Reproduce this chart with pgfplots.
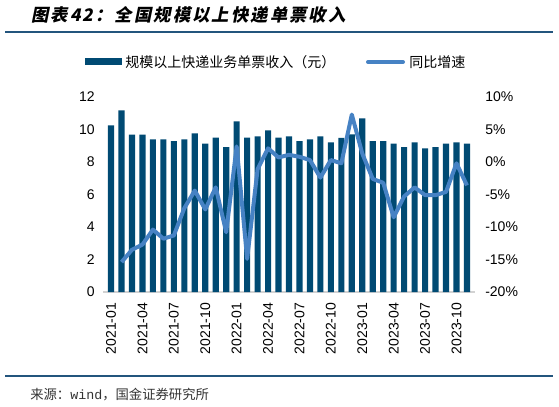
\documentclass[border=0pt]{standalone}
\usepackage{pgfplots}
\pgfplotsset{compat=1.18}
\usepackage{pgfplotstable}
\usepackage{fontspec}
\setmainfont{Liberation Sans}
\newfontfamily\cjk{Noto Sans CJK SC}
\newfontfamily\titlefont[FakeSlant=0.2,LetterSpace=12]{Noto Sans CJK SC}
\newfontfamily\monofont{Liberation Mono}
\definecolor{barc}{RGB}{0,74,115}
\definecolor{linec}{RGB}{70,130,196}
\definecolor{rulec}{RGB}{35,85,125}
\definecolor{axisc}{RGB}{210,210,210}

\pgfplotstableread{
x y
0 10.26
1 11.18
2 9.68
3 9.68
4 9.39
5 9.39
6 9.29
7 9.39
8 9.76
9 9.13
10 9.50
11 8.92
12 10.50
13 9.50
14 9.58
15 9.95
16 9.50
17 9.58
18 9.29
19 9.39
20 9.58
21 9.21
22 9.48
23 9.70
24 10.69
25 9.29
26 9.29
27 9.13
28 8.92
29 9.21
30 8.84
31 8.92
32 9.13
33 9.21
34 9.13
}\bars

\pgfplotstableread{
x y
1 -15.4
2 -13.5
3 -12.7
4 -10.4
5 -11.8
6 -11.3
7 -7.1
8 -4.4
9 -7.3
10 -3.9
11 -10.8
12 2.4
13 -14.9
14 -1.1
15 2.1
16 0.7
17 1.1
18 0.8
19 0.3
20 -2.4
21 0.3
22 -0.2
23 7.3
24 1.3
25 -2.6
26 -3.2
27 -8.5
28 -5.3
29 -3.9
30 -5.1
31 -5.1
32 -4.6
33 -0.2
34 -3.6
}\growth

\begin{document}
\begin{tikzpicture}[x=0.75pt,y=0.75pt]
\useasboundingbox (0,0) rectangle (559,406);
% title
\node[anchor=west,inner sep=0pt] at (31,391) {\titlefont\bfseries\fontsize{13pt}{15pt}\selectfont 图表42：全国规模以上快递单票收入};
\fill[rulec] (5,373.3) rectangle (553,375.3);
% legend
\fill[barc] (85,340.5) rectangle (122,347.5);
\node[anchor=west,inner sep=0pt] at (125,344) {\cjk\fontsize{10.5pt}{12pt}\selectfont 规模以上快递业务单票收入（元）};
\draw[linec,line width=3pt,line cap=round] (368,344) -- (403,344);
\node[anchor=west,inner sep=0pt] at (409,344) {\cjk\fontsize{10.5pt}{12pt}\selectfont 同比增速};

\begin{axis}[
  at={(77.25pt,85.5pt)}, anchor=south west,
  scale only axis, width=279pt, height=146.25pt,
  xmin=-0.77, xmax=34.77,
  ymin=0, ymax=12,
  ytick={0,2,4,6,8,10,12},
  axis y line*=left,
  axis x line*=bottom,
  y axis line style={draw=none},
  x axis line style={draw=axisc,line width=1pt},
  major tick length=0pt,
  xtick={0,3,6,9,12,15,18,21,24,27,30,33},
  xticklabels={2021-01,2021-04,2021-07,2021-10,2022-01,2022-04,2022-07,2022-10,2023-01,2023-04,2023-07,2023-10},
  xticklabel style={rotate=90,anchor=east,inner sep=0pt,font=\fontsize{10.5pt}{12pt}\selectfont},
  xticklabel shift=8pt,
  yticklabel style={inner sep=0pt,font=\fontsize{10.5pt}{12pt}\selectfont},
  yticklabel shift=6pt,
  /pgf/number format/assume math mode=true,
  clip=false,
]
\addplot[ybar,bar width=4.6pt,fill=barc,draw=none,bar shift=0pt] table[x=x,y=y]{\bars};
\end{axis}

\begin{axis}[
  at={(77.25pt,85.5pt)}, anchor=south west,
  scale only axis, width=279pt, height=146.25pt,
  xmin=-0.77, xmax=34.77,
  ymin=-20, ymax=10,
  ytick={-20,-15,-10,-5,0,5,10},
  yticklabels={-20\%,-15\%,-10\%,-5\%,0\%,5\%,10\%},
  axis y line*=right,
  axis x line=none,
  y axis line style={draw=none},
  major tick length=0pt,
  yticklabel style={inner sep=0pt,anchor=west,font=\fontsize{10.5pt}{12pt}\selectfont},
  yticklabel shift=7.5pt,
  clip=false,
]
\addplot[linec,line width=3pt,line join=round,no markers] table[x=x,y=y]{\growth};
\end{axis}

% source
\fill[rulec] (5,29) rectangle (553,31);
\node[anchor=west,inner sep=0pt,text=black!80] at (30,11) {\cjk\fontsize{10pt}{12pt}\selectfont 来源：{\monofont wind}，国金证券研究所};
\end{tikzpicture}
\end{document}
